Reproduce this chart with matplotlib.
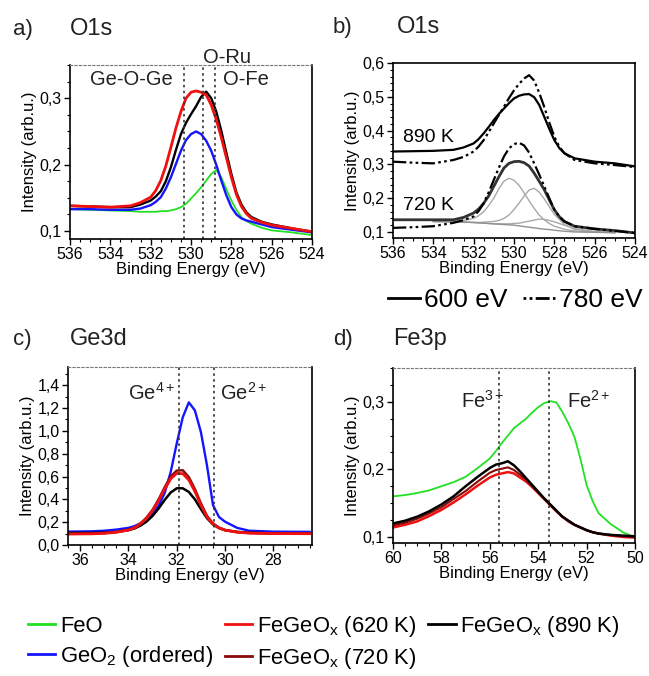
import matplotlib
matplotlib.use('Agg')
import matplotlib.pyplot as plt
from matplotlib.ticker import AutoMinorLocator, FuncFormatter, MultipleLocator
from matplotlib.lines import Line2D

plt.rcParams['font.family'] = ['Liberation Sans', 'DejaVu Sans']
plt.rcParams['mathtext.fontset'] = 'custom'
plt.rcParams['mathtext.rm'] = 'Liberation Sans'
plt.rcParams['mathtext.it'] = 'Liberation Sans'
plt.rcParams['mathtext.bf'] = 'Liberation Sans'

GREEN = '#22e022'
BLUE = '#1414ff'
RED = '#f01010'
DRED = '#8a0a0a'
BLACK = '#000000'

# ---- O1s (panel a) ----
o1s_E = [536, 535, 534, 533, 532.5, 532, 531.75, 531.5, 531.25, 531, 530.75, 530.5, 530.25, 530,
         529.75, 529.5, 529.25, 529, 528.75, 528.5, 528.25, 528, 527.75, 527.5, 527.25, 527, 526.5, 526, 525, 524]
o1s_feo = [.133, .132, .131, .130, .129, .129, .129, .130, .130, .131, .133, .136, .141, .149,
           .157, .166, .176, .186, .192, .181, .163, .146, .132, .121, .115, .111, .105, .101, .098, .094]
o1s_geo2 = [.133, .133, .132, .132, .134, .139, .144, .151, .164, .181, .201, .221, .237, .246,
            .250, .246, .236, .221, .200, .176, .154, .136, .125, .119, .116, .114, .110, .106, .102, .098]
o1s_620 = [.138, .137, .136, .138, .143, .151, .161, .176, .198, .226, .255, .280, .300, .309,
           .311, .309, .305, .290, .268, .241, .211, .181, .155, .137, .126, .119, .113, .109, .104, .099]
o1s_890 = [.138, .137, .136, .136, .140, .146, .152, .160, .175, .196, .222, .246, .263, .276,
           .288, .302, .310, .300, .280, .251, .218, .186, .158, .140, .128, .121, .114, .110, .104, .099]

# ---- O1s photon energy comparison (panel b) ----
b_E = [536, 535, 534, 533, 532.5, 532, 531.75, 531.5, 531.25, 531, 530.75, 530.5, 530.25, 530,
       529.75, 529.5, 529.25, 529, 528.75, 528.5, 528.25, 528, 527.75, 527.5, 527, 526, 525, 524]
b_890_600 = [.338, .339, .340, .343, .350, .362, .375, .392, .411, .431, .449, .465, .481, .495,
             .503, .507, .508, .499, .476, .441, .405, .372, .348, .333, .318, .308, .303, .294]
b_890_780 = [.308, .305, .303, .313, .322, .338, .353, .372, .396, .421, .446, .470, .496, .519,
             .538, .554, .564, .548, .512, .470, .424, .382, .352, .333, .313, .303, .298, .292]
b_720_600 = [.136, .136, .136, .136, .143, .156, .168, .185, .207, .235, .263, .289, .303, .308,
             .309, .305, .295, .274, .250, .225, .195, .166, .145, .131, .117, .109, .104, .097]
b_720_780 = [.112, .114, .117, .127, .135, .146, .162, .185, .218, .254, .290, .323, .347, .360,
             .364, .356, .335, .303, .270, .235, .200, .166, .145, .131, .117, .109, .103, .097]

# fit components of the 720 K spectrum
fit_E = [534, 533, 532.5, 532, 531.75, 531.5, 531.25, 531, 530.75, 530.5, 530.25, 530, 529.75,
         529.5, 529.25, 529, 528.75, 528.5, 528.25, 528, 527.5, 527, 526, 525]
fit_c1 = [.132, .131, .134, .140, .148, .160, .178, .200, .228, .250, .259, .253, .238,
          .216, .192, .170, .150, .136, .125, .117, .108, .103, .099, .098]
fit_c2 = [.131, .130, .129, .128, .128, .129, .130, .131, .134, .140, .150, .166, .185,
          .206, .224, .229, .218, .198, .175, .152, .122, .108, .100, .098]
fit_c3 = [.131, .130, .129, .128, .127, .126, .125, .124, .124, .124, .124, .125, .126,
          .129, .132, .135, .138, .137, .134, .130, .120, .110, .101, .098]
fit_bg = [.131, .130, .129, .128, .127, .126, .125, .124, .123, .122, .121, .120, .118,
          .116, .114, .112, .110, .108, .107, .105, .102, .100, .099, .098]

# ---- Ge3d (panel c) ----
ge_E = [36.5, 35.5, 35, 34.5, 34, 33.75, 33.5, 33.25, 33, 32.75, 32.5, 32.25, 32, 31.75, 31.5,
        31.25, 31, 30.75, 30.5, 30.25, 30, 29.5, 29, 28, 26.5]
ge_geo2 = [.117, .120, .125, .135, .150, .165, .190, .225, .277, .345, .455, .640, .890, 1.12, 1.250,
           1.18, .990, .700, .350, .245, .204, .150, .125, .117, .115]
ge_620 = [.096, .098, .102, .112, .131, .150, .185, .235, .300, .390, .490, .580, .628, .625, .570,
          .470, .350, .245, .185, .150, .130, .112, .104, .100, .099]
ge_720 = [.098, .100, .104, .114, .133, .152, .188, .240, .308, .400, .505, .600, .652, .655, .595,
          .490, .365, .255, .190, .152, .131, .113, .105, .101, .100]
ge_890 = [.105, .106, .108, .114, .130, .145, .170, .205, .255, .320, .395, .460, .497, .497, .465,
          .400, .315, .235, .180, .148, .130, .115, .108, .102, .100]

# ---- Fe3p (panel d) ----
fe_E = [60, 59.5, 59, 58.5, 58, 57.5, 57, 56.5, 56, 55.75, 55.5, 55.25, 55, 54.75, 54.5, 54.25, 54,
        53.75, 53.5, 53.25, 53, 52.75, 52.5, 52.25, 52, 51.75, 51.5, 51, 50.5, 50]
fe_feo = [.160, .162, .165, .169, .175, .181, .189, .202, .216, .227, .239, .250, .261, .268, .275, .284, .292,
          .298, .301, .299, .285, .268, .248, .215, .177, .153, .135, .119, .107, .099]
fe_620 = [.114, .118, .123, .131, .140, .151, .163, .176, .188, .192, .194, .196, .194, .188, .182, .174, .165,
          .156, .147, .138, .130, .123, .118, .114, .110, .107, .105, .102, .100, .099]
fe_720 = [.117, .121, .127, .135, .144, .156, .168, .182, .195, .199, .201, .203, .199, .192, .185, .175, .166,
          .157, .148, .139, .130, .124, .118, .114, .110, .107, .105, .103, .101, .100]
fe_890 = [.120, .124, .130, .138, .148, .160, .175, .189, .202, .207, .209, .212, .206, .197, .187, .177, .167,
          .157, .148, .139, .130, .124, .118, .114, .110, .107, .105, .103, .102, .101]

legend_labels = ['FeO', 'GeO$_2$ (ordered)', 'FeGeO$_x$ (620 K)', 'FeGeO$_x$ (720 K)', 'FeGeO$_x$ (890 K)']
legend_colors = [GREEN, BLUE, RED, DRED, BLACK]

DASHDOTDOT = (0, (6, 1.5, 1.2, 1.5, 1.2, 1.5))
DOTDOTDASH = (0, (1.0, 1.2, 1.0, 1.2, 5, 1.2))

fig = plt.figure(figsize=(6.49, 6.76), dpi=100)
ax_a = fig.add_axes([0.1079, 0.6464, 0.3729, 0.2574])
ax_b = fig.add_axes([0.6055, 0.6479, 0.3729, 0.2589])
ax_c = fig.add_axes([0.1048, 0.1938, 0.3760, 0.2633])
ax_d = fig.add_axes([0.6055, 0.1967, 0.3729, 0.2589])

comma = FuncFormatter(lambda v, p: ('%.1f' % v).replace('.', ','))


def style(ax, xlim, ylim, xmaj, ymaj, ymin_n, top_dotted=True):
    ax.set_xlim(*xlim)
    ax.set_ylim(*ylim)
    ax.xaxis.set_major_locator(MultipleLocator(xmaj))
    ax.xaxis.set_minor_locator(AutoMinorLocator(4))
    ax.yaxis.set_major_locator(MultipleLocator(ymaj))
    ax.yaxis.set_minor_locator(AutoMinorLocator(ymin_n))
    ax.yaxis.set_major_formatter(comma)
    ax.tick_params(which='major', direction='out', length=4, width=1, labelsize=11.5, pad=2)
    ax.tick_params(which='minor', direction='out', length=2, width=0.8)
    ax.set_xlabel('Binding Energy (eV)', fontsize=12, labelpad=0)
    ax.set_ylabel('Intensity (arb.u.)', fontsize=12, labelpad=2)
    for s in ax.spines.values():
        s.set_linewidth(1.2)
    if top_dotted:
        ax.spines['top'].set_linestyle((0, (2, 2)))
        ax.spines['top'].set_color('#777777')
        ax.spines['top'].set_linewidth(0.8)


# panel a
ax_a.plot(o1s_E, o1s_feo, color=GREEN, lw=1.3)
ax_a.plot(o1s_E, o1s_geo2, color=BLUE, lw=1.7)
ax_a.plot(o1s_E, o1s_890, color=BLACK, lw=1.7)
ax_a.plot(o1s_E, o1s_620, color=RED, lw=2.0)
for xv in [530.35, 529.4, 528.8]:
    ax_a.axvline(xv, color='#333333', ls=(0, (1.5, 2)), lw=1.2)
style(ax_a, (536, 524), (0.088, 0.35), 2, 0.1, 4)
ax_a.text(535.0, 0.328, 'Ge-O-Ge', fontsize=14.5, color='#222222', va='center')
ax_a.text(529.4, 0.362, 'O-Ru', fontsize=14.5, color='#222222', va='center', clip_on=False)
ax_a.text(528.4, 0.328, 'O-Fe', fontsize=14.5, color='#222222', va='center')

# panel b
for yc in [fit_c1, fit_c2, fit_c3]:
    ax_b.plot(fit_E, yc, color='#a8a8a8', lw=1.0)
ax_b.plot(fit_E, fit_bg, color='#909090', lw=1.0)
ax_b.plot(b_E, b_890_600, color=BLACK, lw=1.6)
ax_b.plot(b_E, b_890_780, color=BLACK, lw=1.6, ls=DASHDOTDOT)
ax_b.plot(b_E, b_720_600, color='#333333', lw=2.0)
ax_b.plot(b_E, b_720_780, color=BLACK, lw=1.6, ls=DASHDOTDOT)
style(ax_b, (536, 524), (0.082, 0.6), 2, 0.1, 5, top_dotted=False)
ax_b.text(535.5, 0.355, '890 K', fontsize=14, va='bottom')
ax_b.text(535.5, 0.152, '720 K', fontsize=14, va='bottom')

# panel c
ax_c.plot(ge_E, ge_geo2, color=BLUE, lw=1.7)
ax_c.plot(ge_E, ge_890, color=BLACK, lw=1.8)
ax_c.plot(ge_E, ge_720, color=DRED, lw=1.8)
ax_c.plot(ge_E, ge_620, color=RED, lw=2.0)
for xv in [31.9, 30.45]:
    ax_c.axvline(xv, color='#333333', ls=(0, (1.5, 2)), lw=1.2)
style(ax_c, (36.5, 26.4), (0.0, 1.56), 2, 0.2, 2)
ax_c.text(34.0, 1.33, 'Ge$^{4+}$', fontsize=14.5, color='#222222', va='center')
ax_c.text(30.2, 1.33, 'Ge$^{2+}$', fontsize=14.5, color='#222222', va='center')

# panel d
ax_d.plot(fe_E, fe_feo, color=GREEN, lw=1.3)
ax_d.plot(fe_E, fe_620, color=RED, lw=1.8)
ax_d.plot(fe_E, fe_720, color=DRED, lw=1.5)
ax_d.plot(fe_E, fe_890, color=BLACK, lw=1.8)
for xv in [55.62, 53.55]:
    ax_d.axvline(xv, color='#333333', ls=(0, (1.5, 2)), lw=1.2)
style(ax_d, (60, 50), (0.091, 0.35), 2, 0.1, 4)
ax_d.text(57.2, 0.301, 'Fe$^{3+}$', fontsize=14.5, color='#222222', va='center')
ax_d.text(52.8, 0.301, 'Fe$^{2+}$', fontsize=14.5, color='#222222', va='center')

# panel headings
for x0, x1, y, lab, name in [(13, 70, 35, 'a)', 'O1s'), (333, 397, 33, 'b)', 'O1s'),
                              (13, 70, 345, 'c)', 'Ge3d'), (333, 393, 345, 'd)', 'Fe3p')]:
    fig.text(x0 / 649, 1 - y / 676, lab, fontsize=16, color='#222222', va='baseline')
    fig.text(x1 / 649, 1 - y / 676, name, fontsize=17, color='#222222', va='baseline')

# photon energy legend for panel b
pe_handles = [Line2D([], [], color=BLACK, lw=2), Line2D([], [], color=BLACK, lw=2, ls=DOTDOTDASH)]
fig.legend(pe_handles, ['600 eV', '780 eV'], loc='center left', bbox_to_anchor=(388 / 649, 1 - 300 / 676),
           ncol=2, frameon=False, fontsize=19, handlelength=1.2, handletextpad=0.15, columnspacing=0.6,
           borderpad=0, borderaxespad=0)

# sample legend
handles = [Line2D([], [], color=c, lw=2) for c in legend_colors]
fig.legend(handles, legend_labels, loc='upper left', bbox_to_anchor=(28 / 649, 1 - 614 / 676),
           ncol=3, frameon=False, fontsize=15.8, handlelength=1.25, handletextpad=0.2,
           columnspacing=0.55, labelspacing=0.3, borderpad=0, borderaxespad=0)

fig.savefig('out.png', dpi=100)
